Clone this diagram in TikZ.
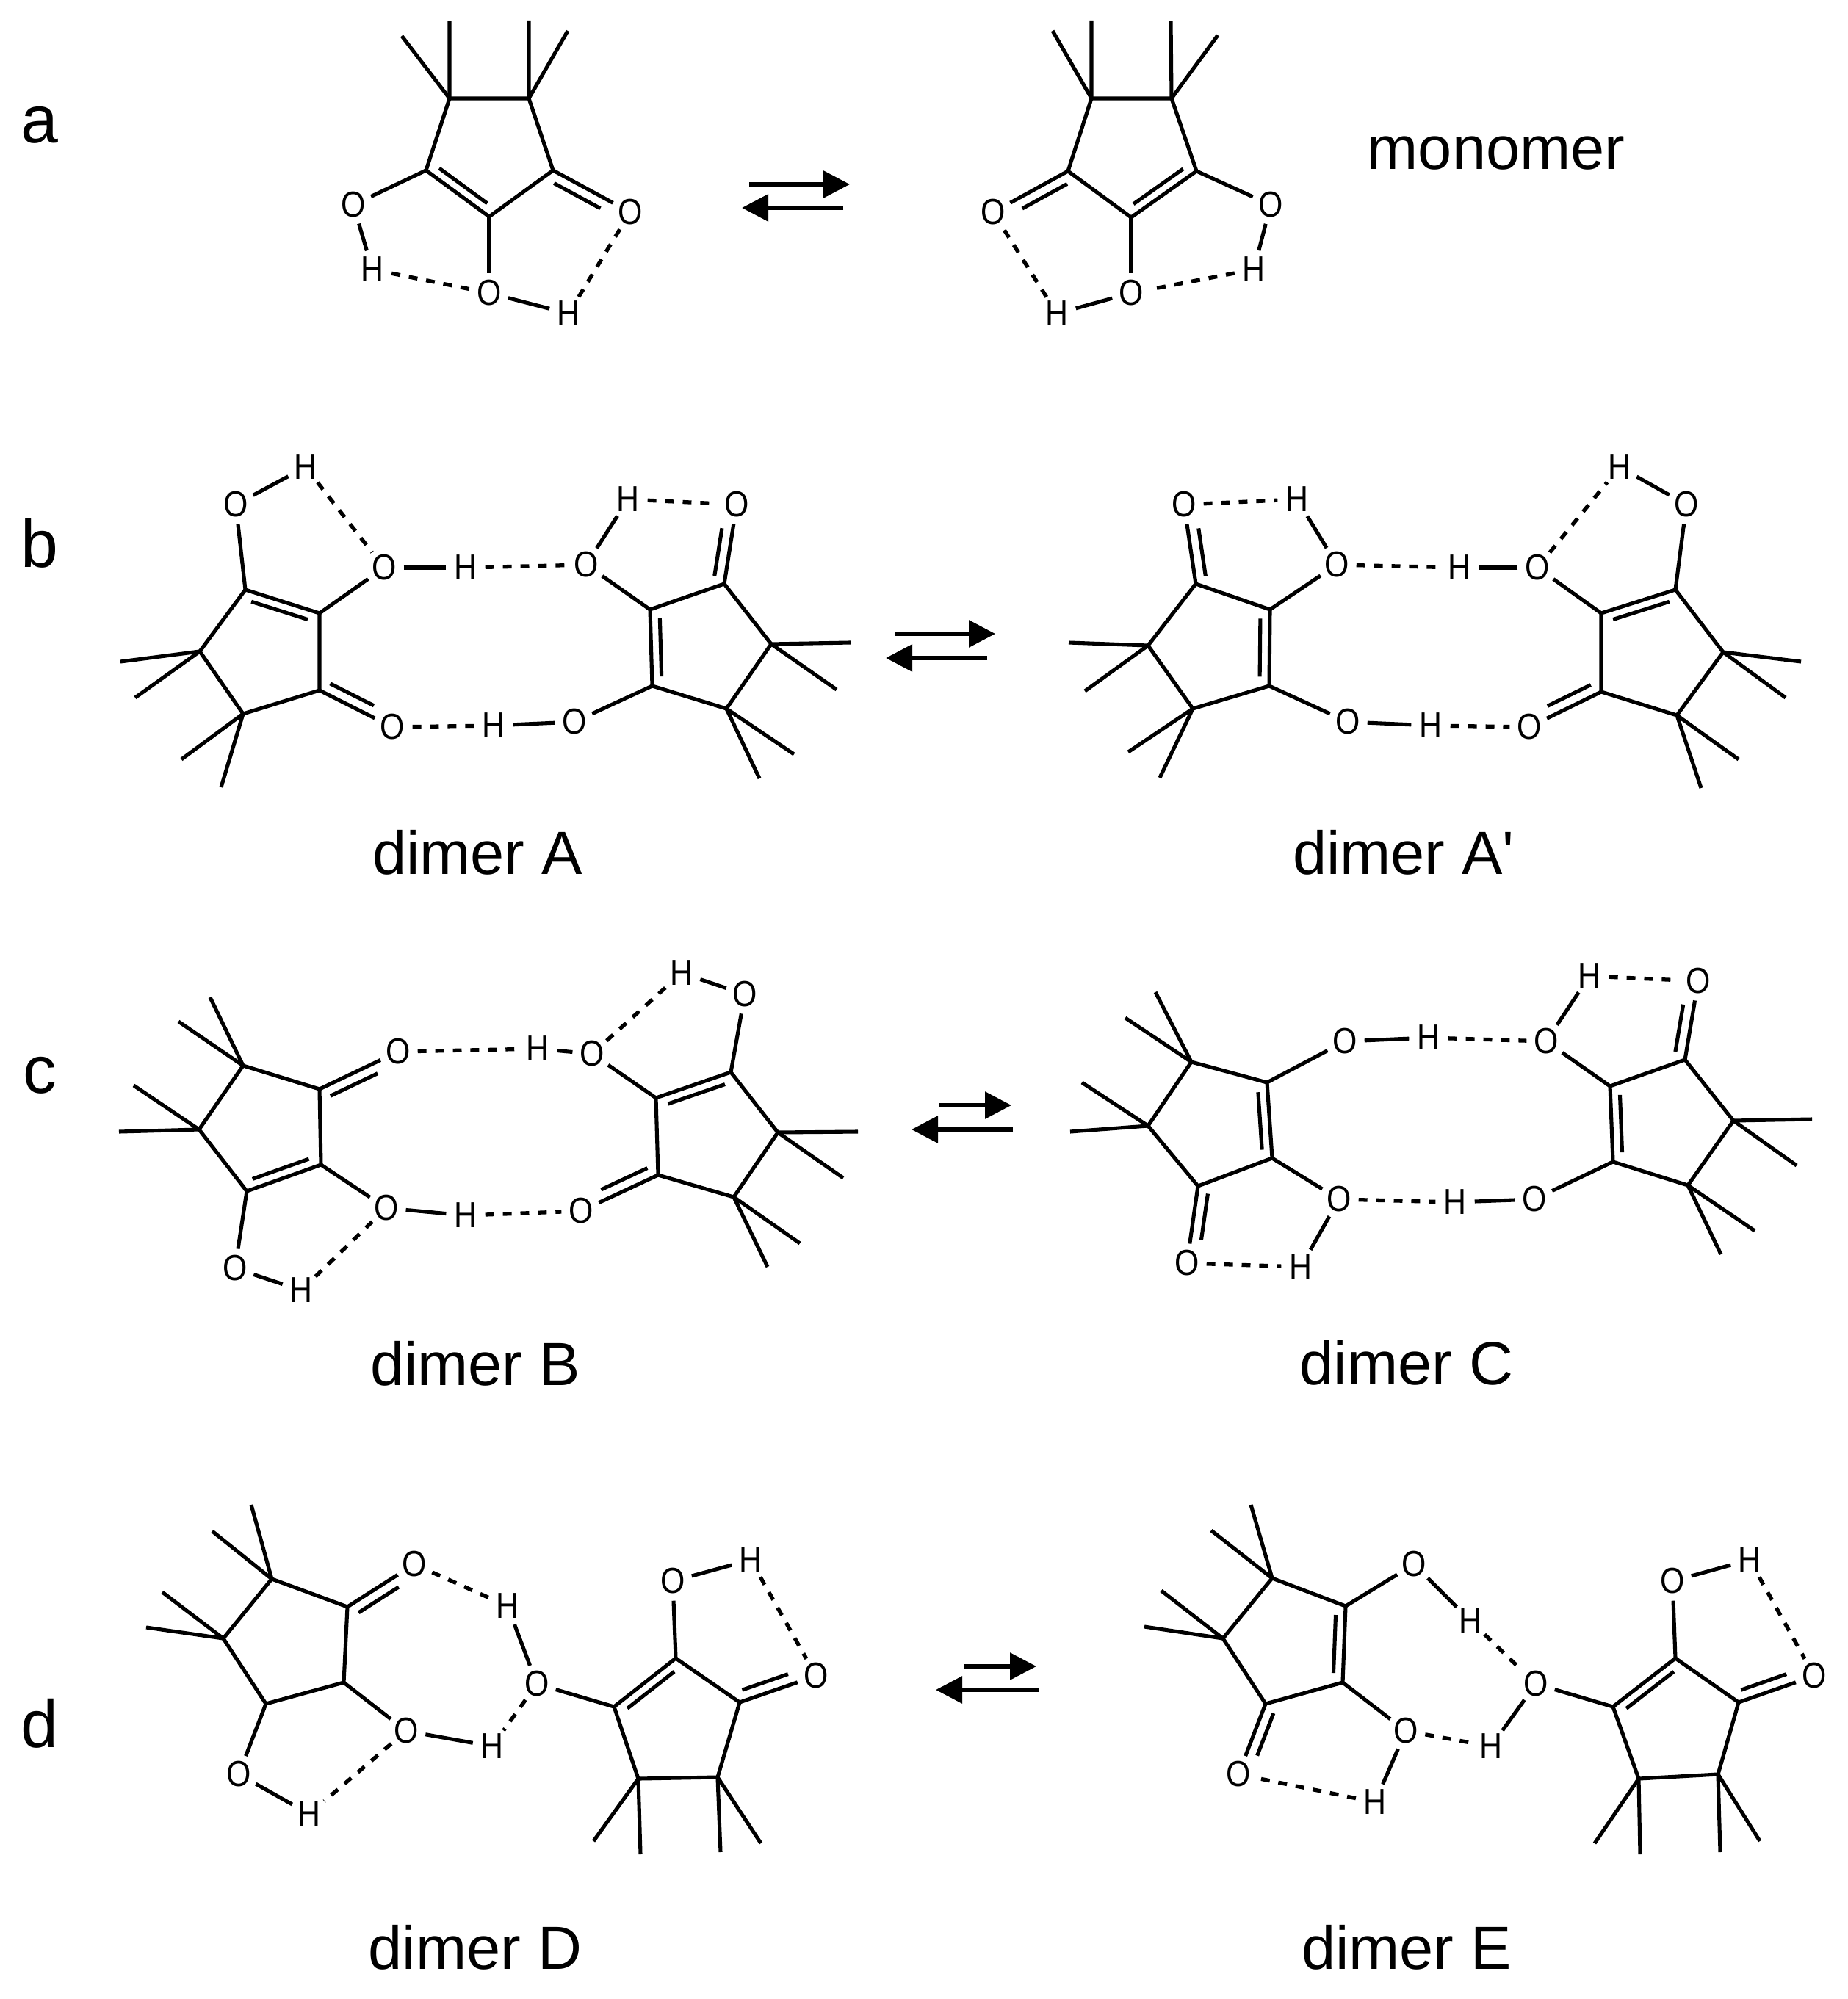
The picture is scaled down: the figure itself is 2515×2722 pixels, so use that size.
\documentclass[tikz,border=0pt]{standalone}
\usepackage{fontspec}
\setmainfont{Liberation Sans}
\newfontfamily\atomfont{Liberation Sans}[FakeStretch=0.87]
\newfontfamily\plainfont{Liberation Sans}
\usetikzlibrary{arrows.meta,calc}
\tikzset{
	bond/.style={line width=1.45pt, line join=miter},
	hbond/.style={line width=1.5pt, dash pattern=on 3.4pt off 3.4pt},
	eqarrow/.style={line width=1.7pt, -{Triangle[length=.36cm,width=.36cm]}},
	atom/.style={circle, inner sep=0pt, minimum size=.52cm, font=\atomfont\fontsize{14}{15}\selectfont},
	caption/.style={anchor=base, font=\fontsize{23.6}{26}\selectfont},
	panel/.style={anchor=base, font=\fontsize{26}{28}\selectfont},
}
% inner line of a ring double bond, then a C=O with its inner line
\newcommand{\innerbond}[3]{\draw[bond] ($(#1)!.12!(#2)!#3!90:(#2)$) -- ($(#2)!.12!(#1)!#3!-90:(#1)$);}
\newcommand{\cobond}[3]{\draw[bond] (#1) -- (#2); \draw[bond] ($(#1)!.08!(#2)!#3!90:(#2)$) -- ($(#1)!.68!(#2)!#3!90:(#2)$);}
\begin{document}
\begin{tikzpicture}[x=0.01cm, y=-0.01cm]
	\useasboundingbox (0,0) rectangle (2515,2722);

	% panel a, monomer
	\node[panel] (la) at (54,195) {a};
	\node[caption] (lmono) at (2037,231) {monomer};
	\coordinate (p1) at (612,134); \coordinate (p2) at (720,134); \coordinate (p3) at (753,232); \coordinate (p4) at (666,295); \coordinate (p5) at (580,232);
	\coordinate (pm1) at (547,49); \coordinate (pm2) at (612,29); \coordinate (pm3) at (720,28); \coordinate (pm4) at (773,42);
	\node[atom] (pO1) at (481,279) {O};
	\node[atom] (pH1) at (507,367) {H};
	\node[atom] (pO2) at (666,399) {O};
	\node[atom] (pH2) at (774,427) {H};
	\node[atom] (pO3) at (858,289) {O};
	\draw[bond] (p1) -- (p2) -- (p3) -- (p4) -- (p5) -- cycle;
	\draw[bond] (p1) -- (pm1) (p1) -- (pm2) (p2) -- (pm3) (p2) -- (pm4);
	\innerbond{p5}{p4}{3.7pt}
	\cobond{p3}{pO3}{-4.2pt}
	\draw[bond] (p5) -- (pO1); \draw[bond] (pO1) -- (pH1); \draw[bond] (p4) -- (pO2); \draw[bond] (pO2) -- (pH2);
	\draw[hbond] (pH1) -- (pO2); \draw[hbond] (pH2) -- (pO3);

	\coordinate (ea1) at (1020,251); \coordinate (ea2) at (1157,251); \coordinate (ea3) at (1148,283); \coordinate (ea4) at (1010,283);
	\draw[eqarrow] (ea1) -- (ea2);
	\draw[eqarrow] (ea3) -- (ea4);

	\coordinate (q1) at (1486,134); \coordinate (q2) at (1595,134); \coordinate (q3) at (1629,233); \coordinate (q4) at (1540,296); \coordinate (q5) at (1454,233);
	\coordinate (qm1) at (1433,42); \coordinate (qm2) at (1486,28); \coordinate (qm3) at (1594,29); \coordinate (qm4) at (1658,48);
	\node[atom] (qO1) at (1730,279) {O};
	\node[atom] (qH1) at (1707,367) {H};
	\node[atom] (qO2) at (1540,399) {O};
	\node[atom] (qH2) at (1439,427) {H};
	\node[atom] (qO3) at (1352,289) {O};
	\draw[bond] (q1) -- (q2) -- (q3) -- (q4) -- (q5) -- cycle;
	\draw[bond] (q1) -- (qm1) (q1) -- (qm2) (q2) -- (qm3) (q2) -- (qm4);
	\innerbond{q3}{q4}{-3.7pt}
	\cobond{q5}{qO3}{4.2pt}
	\draw[bond] (q3) -- (qO1); \draw[bond] (qO1) -- (qH1); \draw[bond] (q4) -- (qO2); \draw[bond] (qO2) -- (qH2);
	\draw[hbond] (qH1) -- (qO2); \draw[hbond] (qH2) -- (qO3);

	% panel b, dimer A
	\node[panel] (lb) at (54,773) {b};
	\node[caption] (lA) at (650,1190) {dimer A};
	\coordinate (a1) at (334,803); \coordinate (a2) at (435,835); \coordinate (a3) at (435,940); \coordinate (a4) at (331,972); \coordinate (a5) at (272,887);
	\coordinate (am1) at (164,901); \coordinate (am2) at (184,950); \coordinate (am3) at (247,1034); \coordinate (am4) at (301,1072);
	\coordinate (a6) at (885,830); \coordinate (a7) at (986,795); \coordinate (a8) at (1050,877); \coordinate (a9) at (989,965); \coordinate (a10) at (888,934);
	\coordinate (am5) at (1158,875); \coordinate (am6) at (1139,939); \coordinate (am7) at (1081,1027); \coordinate (am8) at (1034,1060);
	\node[atom] (aO1) at (321,687) {O};
	\node[atom] (aH1) at (416,636) {H};
	\node[atom] (aO2) at (523,773) {O};
	\node[atom] (aH2) at (634,773) {H};
	\node[atom] (aO3) at (798,769) {O};
	\node[atom] (aH3) at (855,680) {H};
	\node[atom] (aO4) at (1003,687) {O};
	\node[atom] (aO5) at (534,990) {O};
	\node[atom] (aH4) at (672,988) {H};
	\node[atom] (aO6) at (782,983) {O};
	\draw[bond] (a1) -- (a2) -- (a3) -- (a4) -- (a5) -- cycle;
	\draw[bond] (a6) -- (a7) -- (a8) -- (a9) -- (a10) -- cycle;
	\draw[bond] (a5) -- (am1) (a5) -- (am2) (a4) -- (am3) (a4) -- (am4) (a8) -- (am5) (a8) -- (am6) (a9) -- (am7) (a9) -- (am8);
	\innerbond{a1}{a2}{-3.7pt}
	\innerbond{a6}{a10}{3.7pt}
	\cobond{a3}{aO5}{4.2pt}
	\cobond{a7}{aO4}{4.2pt}
	\draw[bond] (a1) -- (aO1); \draw[bond] (aO1) -- (aH1); \draw[bond] (a2) -- (aO2); \draw[bond] (aO2) -- (aH2); \draw[bond] (a6) -- (aO3); \draw[bond] (aO3) -- (aH3); \draw[bond] (a10) -- (aO6); \draw[bond] (aO6) -- (aH4);
	\draw[hbond] (aH1) -- (aO2); \draw[hbond] (aH2) -- (aO3); \draw[hbond] (aH3) -- (aO4); \draw[hbond] (aH4) -- (aO5);

	\coordinate (eb1) at (1218,863); \coordinate (eb2) at (1355,863); \coordinate (eb3) at (1344,896); \coordinate (eb4) at (1206,896);
	\draw[eqarrow] (eb1) -- (eb2);
	\draw[eqarrow] (eb3) -- (eb4);

	% dimer A'
	\node[caption] (lAp) at (1911,1190) {dimer A{\plainfont '}};
	\coordinate (b1) at (1628,795); \coordinate (b2) at (1729,830); \coordinate (b3) at (1728,934); \coordinate (b4) at (1624,965); \coordinate (b5) at (1563,879);
	\coordinate (bm1) at (1455,875); \coordinate (bm2) at (1477,941); \coordinate (bm3) at (1536,1024); \coordinate (bm4) at (1579,1059);
	\coordinate (b6) at (2180,835); \coordinate (b7) at (2281,803); \coordinate (b8) at (2346,888); \coordinate (b9) at (2283,974); \coordinate (b10) at (2180,942);
	\coordinate (bm5) at (2452,901); \coordinate (bm6) at (2431,950); \coordinate (bm7) at (2367,1034); \coordinate (bm8) at (2316,1073);
	\node[atom] (bO1) at (1612,687) {O};
	\node[atom] (bH1) at (1766,680) {H};
	\node[atom] (bO2) at (1820,769) {O};
	\node[atom] (bH2) at (1987,773) {H};
	\node[atom] (bO3) at (2093,773) {O};
	\node[atom] (bH3) at (2205,636) {H};
	\node[atom] (bO4) at (2296,687) {O};
	\node[atom] (bO5) at (1835,983) {O};
	\node[atom] (bH4) at (1948,988) {H};
	\node[atom] (bO6) at (2082,990) {O};
	\draw[bond] (b1) -- (b2) -- (b3) -- (b4) -- (b5) -- cycle;
	\draw[bond] (b6) -- (b7) -- (b8) -- (b9) -- (b10) -- cycle;
	\draw[bond] (b5) -- (bm1) (b5) -- (bm2) (b4) -- (bm3) (b4) -- (bm4) (b8) -- (bm5) (b8) -- (bm6) (b9) -- (bm7) (b9) -- (bm8);
	\innerbond{b2}{b3}{-3.7pt}
	\innerbond{b6}{b7}{-3.7pt}
	\cobond{b1}{bO1}{-4.2pt}
	\cobond{b10}{bO6}{-4.2pt}
	\draw[bond] (b2) -- (bO2); \draw[bond] (bO2) -- (bH1); \draw[bond] (b6) -- (bO3); \draw[bond] (bO3) -- (bH2); \draw[bond] (b7) -- (bO4); \draw[bond] (bO4) -- (bH3); \draw[bond] (b3) -- (bO5); \draw[bond] (bO5) -- (bH4);
	\draw[hbond] (bO1) -- (bH1); \draw[hbond] (bO2) -- (bH2); \draw[hbond] (bO3) -- (bH3); \draw[hbond] (bH4) -- (bO6);

	% panel c, dimer B
	\node[panel] (lc) at (54,1488) {c};
	\node[caption] (lB) at (647,1886) {dimer B};
	\coordinate (c1) at (331,1451); \coordinate (c2) at (435,1483); \coordinate (c3) at (437,1586); \coordinate (c4) at (336,1622); \coordinate (c5) at (271,1538);
	\coordinate (cm1) at (286,1358); \coordinate (cm2) at (243,1391); \coordinate (cm3) at (182,1478); \coordinate (cm4) at (162,1541);
	\coordinate (c6) at (893,1495); \coordinate (c7) at (995,1460); \coordinate (c8) at (1059,1542); \coordinate (c9) at (999,1630); \coordinate (c10) at (896,1600);
	\coordinate (cm5) at (1168,1541); \coordinate (cm6) at (1148,1604); \coordinate (cm7) at (1089,1693); \coordinate (cm8) at (1045,1725);
	\node[atom] (cO1) at (542,1432) {O};
	\node[atom] (cH1) at (732,1428) {H};
	\node[atom] (cO2) at (806,1435) {O};
	\node[atom] (cH2) at (928,1325) {H};
	\node[atom] (cO3) at (1014,1354) {O};
	\node[atom] (cO4) at (526,1645) {O};
	\node[atom] (cH3) at (634,1655) {H};
	\node[atom] (cO5) at (791,1649) {O};
	\node[atom] (cO6) at (320,1727) {O};
	\node[atom] (cH4) at (410,1757) {H};
	\draw[bond] (c1) -- (c2) -- (c3) -- (c4) -- (c5) -- cycle;
	\draw[bond] (c6) -- (c7) -- (c8) -- (c9) -- (c10) -- cycle;
	\draw[bond] (c1) -- (cm1) (c1) -- (cm2) (c5) -- (cm3) (c5) -- (cm4) (c8) -- (cm5) (c8) -- (cm6) (c9) -- (cm7) (c9) -- (cm8);
	\innerbond{c3}{c4}{-3.7pt}
	\innerbond{c6}{c7}{-3.7pt}
	\cobond{c2}{cO1}{-4.2pt}
	\cobond{c10}{cO5}{-4.2pt}
	\draw[bond] (c6) -- (cO2); \draw[bond] (cO2) -- (cH1); \draw[bond] (c7) -- (cO3); \draw[bond] (cO3) -- (cH2); \draw[bond] (c3) -- (cO4); \draw[bond] (cO4) -- (cH3); \draw[bond] (c4) -- (cO6); \draw[bond] (cO6) -- (cH4);
	\draw[hbond] (cO1) -- (cH1); \draw[hbond] (cO2) -- (cH2); \draw[hbond] (cH3) -- (cO5); \draw[hbond] (cO4) -- (cH4);

	\coordinate (ec1) at (1278,1505); \coordinate (ec2) at (1377,1505); \coordinate (ec3) at (1379,1538); \coordinate (ec4) at (1241,1538);
	\draw[eqarrow] (ec1) -- (ec2);
	\draw[eqarrow] (ec3) -- (ec4);

	% dimer C
	\node[caption] (lC) at (1915,1885) {dimer C};
	\coordinate (d1) at (1622,1446); \coordinate (d2) at (1725,1474); \coordinate (d3) at (1732,1577); \coordinate (d4) at (1631,1615); \coordinate (d5) at (1563,1533);
	\coordinate (dm1) at (1573,1351); \coordinate (dm2) at (1532,1386); \coordinate (dm3) at (1473,1474); \coordinate (dm4) at (1457,1541);
	\coordinate (d6) at (2192,1479); \coordinate (d7) at (2294,1443); \coordinate (d8) at (2360,1526); \coordinate (d9) at (2298,1614); \coordinate (d10) at (2196,1582);
	\coordinate (dm5) at (2467,1524); \coordinate (dm6) at (2446,1587); \coordinate (dm7) at (2389,1676); \coordinate (dm8) at (2343,1708);
	\node[atom] (dO1) at (1831,1418) {O};
	\node[atom] (dH1) at (1945,1413) {H};
	\node[atom] (dO2) at (2105,1418) {O};
	\node[atom] (dH2) at (2164,1329) {H};
	\node[atom] (dO3) at (2312,1336) {O};
	\node[atom] (dO4) at (1823,1633) {O};
	\node[atom] (dH3) at (1981,1637) {H};
	\node[atom] (dO5) at (2089,1633) {O};
	\node[atom] (dO6) at (1616,1720) {O};
	\node[atom] (dH4) at (1771,1725) {H};
	\draw[bond] (d1) -- (d2) -- (d3) -- (d4) -- (d5) -- cycle;
	\draw[bond] (d6) -- (d7) -- (d8) -- (d9) -- (d10) -- cycle;
	\draw[bond] (d1) -- (dm1) (d1) -- (dm2) (d5) -- (dm3) (d5) -- (dm4) (d8) -- (dm5) (d8) -- (dm6) (d9) -- (dm7) (d9) -- (dm8);
	\innerbond{d2}{d3}{-3.7pt}
	\innerbond{d6}{d10}{3.7pt}
	\cobond{d4}{dO6}{4.2pt}
	\cobond{d7}{dO3}{4.2pt}
	\draw[bond] (d2) -- (dO1); \draw[bond] (dO1) -- (dH1); \draw[bond] (d6) -- (dO2); \draw[bond] (dO2) -- (dH2); \draw[bond] (d3) -- (dO4); \draw[bond] (dO4) -- (dH4); \draw[bond] (d10) -- (dO5); \draw[bond] (dO5) -- (dH3);
	\draw[hbond] (dH1) -- (dO2); \draw[hbond] (dH2) -- (dO3); \draw[hbond] (dO4) -- (dH3); \draw[hbond] (dO6) -- (dH4);

	% panel d, dimer D
	\node[panel] (ld) at (54,2379) {d};
	\node[caption] (lD) at (647,2681) {dimer D};
	\coordinate (f1) at (370,2150); \coordinate (f2) at (473,2188); \coordinate (f3) at (468,2291); \coordinate (f4) at (362,2320); \coordinate (f5) at (304,2231);
	\coordinate (fm1) at (342,2049); \coordinate (fm2) at (289,2085); \coordinate (fm3) at (221,2168); \coordinate (fm4) at (199,2216);
	\coordinate (f6) at (920,2258); \coordinate (f7) at (1007,2318); \coordinate (f8) at (977,2420); \coordinate (f9) at (869,2422); \coordinate (f10) at (836,2324);
	\coordinate (fm5) at (808,2507); \coordinate (fm6) at (872,2525); \coordinate (fm7) at (981,2522); \coordinate (fm8) at (1036,2510);
	\node[atom] (fO1) at (564,2130) {O};
	\node[atom] (fH1) at (691,2187) {H};
	\node[atom] (fO2) at (731,2293) {O};
	\node[atom] (fH2) at (670,2378) {H};
	\node[atom] (fO3) at (553,2357) {O};
	\node[atom] (fO4) at (325,2416) {O};
	\node[atom] (fH3) at (421,2470) {H};
	\node[atom] (fO5) at (916,2153) {O};
	\node[atom] (fH4) at (1022,2124) {H};
	\node[atom] (fO6) at (1111,2282) {O};
	\draw[bond] (f1) -- (f2) -- (f3) -- (f4) -- (f5) -- cycle;
	\draw[bond] (f6) -- (f7) -- (f8) -- (f9) -- (f10) -- cycle;
	\draw[bond] (f1) -- (fm1) (f1) -- (fm2) (f5) -- (fm3) (f5) -- (fm4) (f9) -- (fm5) (f9) -- (fm6) (f8) -- (fm7) (f8) -- (fm8);
	\innerbond{f10}{f6}{-3.7pt}
	\cobond{f2}{fO1}{-4.2pt}
	\cobond{f7}{fO6}{4.2pt}
	\draw[bond] (fH1) -- (fO2); \draw[bond] (fH2) -- (fO3); \draw[bond] (f3) -- (fO3); \draw[bond] (f4) -- (fO4); \draw[bond] (fO4) -- (fH3); \draw[bond] (f10) -- (fO2); \draw[bond] (f6) -- (fO5); \draw[bond] (fO5) -- (fH4);
	\draw[hbond] (fO1) -- (fH1); \draw[hbond] (fO2) -- (fH2); \draw[hbond] (fO3) -- (fH3); \draw[hbond] (fH4) -- (fO6);

	\coordinate (ed1) at (1313,2269); \coordinate (ed2) at (1411,2269); \coordinate (ed3) at (1414,2301); \coordinate (ed4) at (1274,2301);
	\draw[eqarrow] (ed1) -- (ed2);
	\draw[eqarrow] (ed3) -- (ed4);

	% dimer E
	\node[caption] (lE) at (1915,2681) {dimer E};
	\coordinate (g1) at (1732,2149); \coordinate (g2) at (1832,2187); \coordinate (g3) at (1828,2291); \coordinate (g4) at (1723,2320); \coordinate (g5) at (1665,2231);
	\coordinate (gm1) at (1703,2049); \coordinate (gm2) at (1649,2084); \coordinate (gm3) at (1581,2166); \coordinate (gm4) at (1558,2215);
	\coordinate (g6) at (2281,2258); \coordinate (g7) at (2367,2318); \coordinate (g8) at (2339,2416); \coordinate (g9) at (2231,2422); \coordinate (g10) at (2196,2324);
	\coordinate (gm5) at (2171,2510); \coordinate (gm6) at (2233,2525); \coordinate (gm7) at (2342,2522); \coordinate (gm8) at (2396,2507);
	\node[atom] (gO1) at (1925,2130) {O};
	\node[atom] (gH1) at (2002,2207) {H};
	\node[atom] (gO2) at (2091,2293) {O};
	\node[atom] (gH2) at (2030,2378) {H};
	\node[atom] (gO3) at (1914,2357) {O};
	\node[atom] (gH3) at (1872,2454) {H};
	\node[atom] (gO4) at (1686,2416) {O};
	\node[atom] (gO5) at (2277,2153) {O};
	\node[atom] (gH4) at (2382,2124) {H};
	\node[atom] (gO6) at (2470,2282) {O};
	\draw[bond] (g1) -- (g2) -- (g3) -- (g4) -- (g5) -- cycle;
	\draw[bond] (g6) -- (g7) -- (g8) -- (g9) -- (g10) -- cycle;
	\draw[bond] (g1) -- (gm1) (g1) -- (gm2) (g5) -- (gm3) (g5) -- (gm4) (g9) -- (gm5) (g9) -- (gm6) (g8) -- (gm7) (g8) -- (gm8);
	\innerbond{g2}{g3}{-3.7pt}
	\innerbond{g10}{g6}{-3.7pt}
	\cobond{g4}{gO4}{4.2pt}
	\cobond{g7}{gO6}{4.2pt}
	\draw[bond] (g2) -- (gO1); \draw[bond] (gO1) -- (gH1); \draw[bond] (g10) -- (gO2); \draw[bond] (gO2) -- (gH2); \draw[bond] (g3) -- (gO3); \draw[bond] (gO3) -- (gH3); \draw[bond] (g6) -- (gO5); \draw[bond] (gO5) -- (gH4);
	\draw[hbond] (gH1) -- (gO2); \draw[hbond] (gO3) -- (gH2); \draw[hbond] (gH3) -- (gO4); \draw[hbond] (gH4) -- (gO6);
\end{tikzpicture}
\end{document}
